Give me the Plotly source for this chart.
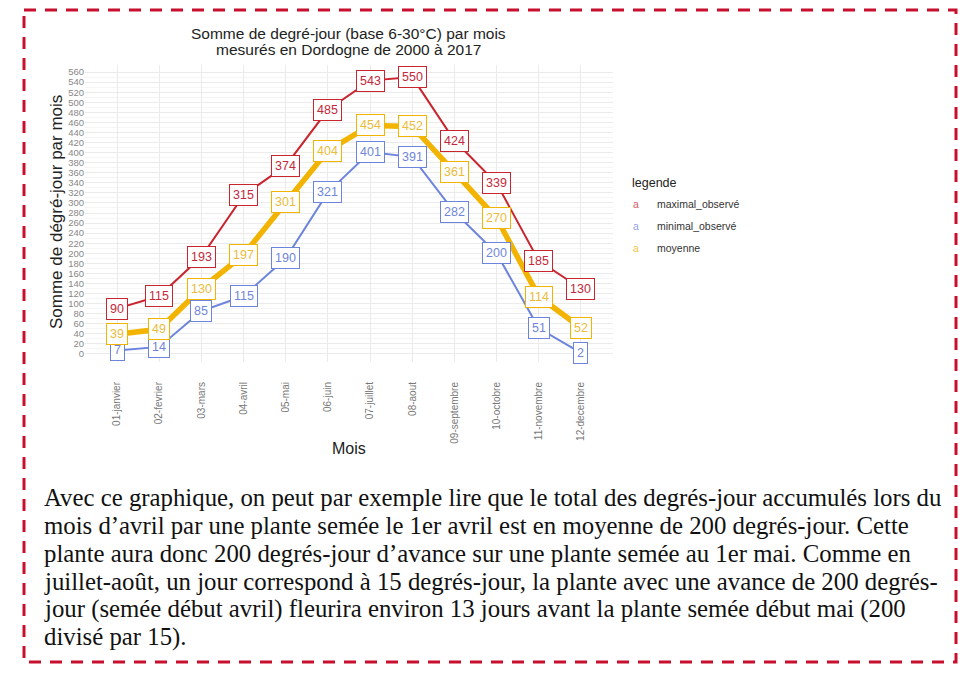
import plotly.graph_objects as go

# ---------------- data ----------------
months = ["01-janvier", "02-fevrier", "03-mars", "04-avril", "05-mai", "06-juin",
          "07-juillet", "08-aout", "09-septembre", "10-octobre", "11-novembre", "12-decembre"]
maximal_observe = [90, 115, 193, 315, 374, 485, 543, 550, 424, 339, 185, 130]
minimal_observe = [7, 14, 85, 115, 190, 321, 401, 391, 282, 200, 51, 2]
moyenne = [39, 49, 130, 197, 301, 404, 454, 452, 361, 270, 114, 52]
series_names = ["maximal_observé", "minimal_observé", "moyenne"]
y_ticks = list(range(0, 561, 20))

title_lines = ["Somme de degré-jour (base 6-30°C) par mois",
               "mesurés en Dordogne de 2000 à 2017"]
paragraph_lines = [
    "Avec ce graphique, on peut par exemple lire que le total des degrés-jour accumulés lors du",
    "mois d’avril par une plante semée le 1er avril est en moyenne de 200 degrés-jour. Cette",
    "plante aura donc 200 degrés-jour d’avance sur une plante semée au 1er mai. Comme en",
    "juillet-août, un jour correspond à 15 degrés-jour, la plante avec une avance de 200 degrés-",
    "jour (semée début avril) fleurira environ 13 jours avant la plante semée début mai (200",
    "divisé par 15).",
]

# ---------------- style ----------------
RED = "#C9252F"
BLUE = "#6D84DC"
YEL = "#F2B400"
colors = [RED, BLUE, YEL]
text_colors = ["#C4283A", "#6F86DA", "#EDBB3A"]
widths = [2, 2, 5.5]
SANS = "Liberation Sans, Arial, sans-serif"
SERIF = "Liberation Serif, Times New Roman, serif"

W_FIG, H_FIG = 960, 696
L, T, R, B = 85, 65, 613, 362
PW, PH = R - L, B - T


def px(x):
    return (x - L) / PW


def py(y):
    return 1 - (y - T) / PH


fig = go.Figure()
all_series = [maximal_observe, minimal_observe, moyenne]
for name, vals, c, w in zip(series_names, all_series, colors, widths):
    fig.add_trace(go.Scatter(x=months, y=vals, mode="lines", name=name,
                             line=dict(color=c, width=w), showlegend=False,
                             hoverinfo="skip"))

annotations = []
# value labels (geom_label style)
for vals, c, tc in zip(all_series, colors, text_colors):
    for m, v in zip(months, vals):
        annotations.append(dict(x=m, y=v, xref="x", yref="y", text=str(v),
                                showarrow=False, bgcolor="white", bordercolor=c,
                                borderwidth=1, borderpad=3,
                                font=dict(family=SANS, size=12.5, color=tc)))

# title
for i, line in enumerate(title_lines):
    annotations.append(dict(x=px(348), y=py(33 + 17 * i), xref="paper", yref="paper",
                            text=line, showarrow=False, xanchor="center", yanchor="middle",
                            font=dict(family=SANS, size=15.5, color="#222")))

# axis titles
annotations.append(dict(x=px(349), y=py(448), xref="paper", yref="paper", text="Mois",
                        showarrow=False, xanchor="center", yanchor="middle",
                        font=dict(family=SANS, size=16, color="#222")))
annotations.append(dict(x=px(56), y=py(212), xref="paper", yref="paper",
                        text="Somme de dégré-jour par mois", textangle=-90,
                        showarrow=False, xanchor="center", yanchor="middle",
                        font=dict(family=SANS, size=17, color="#222")))

# legend
annotations.append(dict(x=px(630), y=py(183), xref="paper", yref="paper", text="legende",
                        showarrow=False, xanchor="left", yanchor="middle",
                        font=dict(family=SANS, size=12.5, color="#222")))
for i, (name, c) in enumerate(zip(series_names, colors)):
    yy = py(204 + 22 * i)
    annotations.append(dict(x=px(636), y=yy, xref="paper", yref="paper", text="a",
                            showarrow=False, xanchor="center", yanchor="middle", opacity=0.75,
                            font=dict(family=SANS, size=10.5, color=c)))
    annotations.append(dict(x=px(655), y=yy, xref="paper", yref="paper", text=name,
                            showarrow=False, xanchor="left", yanchor="middle",
                            font=dict(family=SANS, size=10.5, color="#333")))

# paragraph
for i, line in enumerate(paragraph_lines):
    annotations.append(dict(x=px(42), y=py(497 + 28 * i), xref="paper", yref="paper",
                            text=line, showarrow=False, xanchor="left", yanchor="middle",
                            font=dict(family=SERIF, size=24.8, color="#111")))

shapes = [dict(type="rect", xref="paper", yref="paper",
               x0=px(24), x1=px(956), y0=py(10), y1=py(662),
               line=dict(color="#C8102E", width=3, dash="12px,9px"))]

fig.update_layout(
    width=W_FIG, height=H_FIG, autosize=False,
    margin=dict(l=L, r=W_FIG - R, t=T, b=H_FIG - B, pad=0),
    paper_bgcolor="white", plot_bgcolor="white",
    annotations=annotations, shapes=shapes, showlegend=False,
    xaxis=dict(type="category", range=[-0.76, 11.76], showgrid=True,
               gridcolor="#EBEBEB", gridwidth=1, zeroline=False, showline=False,
               tickangle=-90, ticks="outside", ticklen=15, tickcolor="rgba(0,0,0,0)",
               tickfont=dict(family=SANS, size=10, color="#777"), automargin=False),
    yaxis=dict(range=[-16, 574], tickvals=y_ticks, ticktext=[str(t) for t in y_ticks],
               showgrid=True, gridcolor="#EBEBEB", gridwidth=1, zeroline=False,
               showline=False, ticks="", tickfont=dict(family=SANS, size=9.5, color="#888"),
               minor=dict(tickvals=[t + 10 for t in y_ticks[:-1]], showgrid=True,
                          gridcolor="#F5F5F5", gridwidth=0.6),
               automargin=False),
)

fig.write_html("out.html", config={"displayModeBar": False},
               post_script="document.body.style.margin='0';document.body.style.overflow='hidden';")
